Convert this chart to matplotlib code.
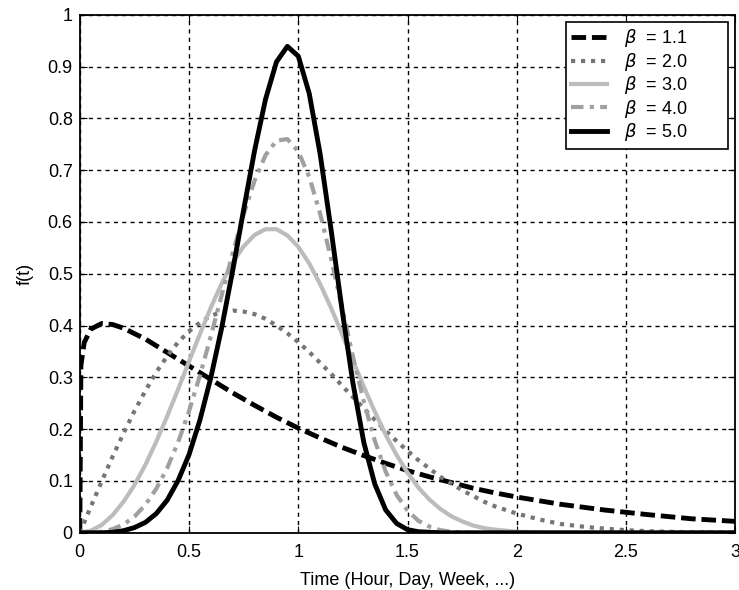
import numpy as np
import matplotlib
matplotlib.use('Agg')
import matplotlib.pyplot as plt

plt.rcParams['font.family'] = ['Liberation Sans', 'DejaVu Sans']

###  data  ###

# common time grid for beta = 2, 3, 4, 5
t = [0.0, 0.05, 0.1, 0.15, 0.2, 0.25, 0.3, 0.35, 0.4, 0.45,
     0.5, 0.55, 0.6, 0.65, 0.7, 0.75, 0.8, 0.85, 0.9, 0.95,
     1.0, 1.05, 1.1, 1.15, 1.2, 1.25, 1.3, 1.35, 1.4, 1.45,
     1.5, 1.55, 1.6, 1.65, 1.7, 1.75, 1.8, 1.85, 1.9, 1.95,
     2.0, 2.1, 2.2, 2.3, 2.4, 2.5, 2.6, 2.7, 2.8, 2.9, 3.0]

f_b2 = [0, 0.050, 0.099, 0.147, 0.192, 0.235, 0.274, 0.310, 0.341, 0.368,
        0.389, 0.406, 0.419, 0.426, 0.429, 0.427, 0.422, 0.413, 0.400, 0.385,
        0.368, 0.349, 0.328, 0.307, 0.284, 0.262, 0.240, 0.218, 0.197, 0.177,
        0.158, 0.140, 0.124, 0.108, 0.095, 0.082, 0.071, 0.060, 0.051, 0.044,
        0.037, 0.026, 0.017, 0.012, 0.008, 0.005, 0.003, 0.002, 0.001, 0.001, 0.0]

f_b3 = [0, 0.004, 0.015, 0.034, 0.060, 0.092, 0.131, 0.176, 0.225, 0.277,
        0.331, 0.384, 0.435, 0.482, 0.522, 0.553, 0.575, 0.586, 0.586, 0.574,
        0.552, 0.520, 0.480, 0.434, 0.384, 0.332, 0.282, 0.234, 0.189, 0.150,
        0.116, 0.087, 0.064, 0.046, 0.032, 0.022, 0.014, 0.009, 0.006, 0.004,
        0.002, 0.001, 0, 0, 0, 0, 0, 0, 0, 0, 0]

f_b4 = [0, 0, 0.002, 0.007, 0.016, 0.031, 0.054, 0.085, 0.125, 0.175,
        0.235, 0.304, 0.380, 0.460, 0.540, 0.615, 0.680, 0.729, 0.757, 0.760,
        0.736, 0.687, 0.616, 0.529, 0.435, 0.340, 0.253, 0.178, 0.118, 0.073,
        0.043, 0.023, 0.012, 0.005, 0.002, 0.001, 0, 0, 0, 0,
        0, 0, 0, 0, 0, 0, 0, 0, 0, 0, 0]

f_b5 = [0, 0, 0, 0.001, 0.004, 0.010, 0.020, 0.037, 0.063, 0.101,
        0.151, 0.218, 0.300, 0.397, 0.507, 0.624, 0.738, 0.837, 0.909, 0.939,
        0.920, 0.848, 0.731, 0.585, 0.431, 0.289, 0.174, 0.094, 0.044, 0.018,
        0.006, 0.002, 0.001, 0, 0, 0, 0, 0, 0, 0,
        0, 0, 0, 0, 0, 0, 0, 0, 0, 0, 0]

# beta = 1.1 rises almost vertically at t = 0
t_b11 = [0.0, 0.005, 0.02, 0.05, 0.1, 0.15, 0.2, 0.3, 0.4, 0.5,
         0.6, 0.7, 0.8, 0.9, 1.0, 1.1, 1.2, 1.3, 1.4, 1.5,
         1.6, 1.7, 1.8, 1.9, 2.0, 2.2, 2.4, 2.6, 2.8, 3.0]
f_b11 = [0, 0.323, 0.367, 0.393, 0.404, 0.402, 0.395, 0.374, 0.348, 0.322,
         0.296, 0.270, 0.246, 0.223, 0.202, 0.183, 0.165, 0.149, 0.134, 0.120,
         0.108, 0.097, 0.086, 0.077, 0.069, 0.055, 0.044, 0.035, 0.027, 0.022]

labels = ['1.1', '2.0', '3.0', '4.0', '5.0']
xticks = [0, 0.5, 1, 1.5, 2, 2.5, 3]
xticklabels = ['0', '0.5', '1', '1.5', '2', '2.5', '3']
yticks = [0, 0.1, 0.2, 0.3, 0.4, 0.5, 0.6, 0.7, 0.8, 0.9, 1]
yticklabels = ['0', '0.1', '0.2', '0.3', '0.4', '0.5', '0.6', '0.7', '0.8', '0.9', '1']

###  plot  ###

fig = plt.figure(figsize=(7.39, 5.90), dpi=100)
ax = fig.add_axes([0.108, 0.097, 0.887, 0.878])

def lab(b):
    # extra spaces mimic the wide MATLAB legend box
    return r'$\beta$  = ' + b + '        '

ax.plot(t_b11, f_b11, color='black', lw=3.5, ls=(0, (3, 1.2)), label=lab(labels[0]))
ax.plot(t, f_b2, color='#767676', lw=3, ls=(0, (1, 1.4)), label=lab(labels[1]))
ax.plot(t, f_b3, color='#bcbcbc', lw=3, label=lab(labels[2]))
ax.plot(t, f_b4, color='#a0a0a0', lw=3, ls=(0, (3, 1.5, 1, 1.5)), label=lab(labels[3]))
ax.plot(t, f_b5, color='black', lw=3.5, label=lab(labels[4]))

ax.set_xlim(0, 3)
ax.set_ylim(0, 1)
ax.set_xticks(xticks)
ax.set_xticklabels(xticklabels)
ax.set_yticks(yticks)
ax.set_yticklabels(yticklabels)
ax.tick_params(direction='in', top=True, right=True, length=5, labelsize=13)
ax.tick_params(axis='x', pad=8)
ax.tick_params(axis='y', pad=5)
ax.grid(True, color='black', lw=1, ls=(0, (3, 3)))
for s in ax.spines.values():
    s.set_linewidth(1.3)

ax.set_xlabel('Time (Hour, Day, Week, ...)', fontsize=13, labelpad=8)
ax.set_ylabel('f(t)', fontsize=13, labelpad=10)

leg = ax.legend(loc='upper right', fontsize=13, fancybox=False, framealpha=1,
                edgecolor='black', handlelength=2.0, handletextpad=0.9,
                borderaxespad=0.4, labelspacing=0.08, borderpad=0.3)
leg.get_frame().set_linewidth(1.2)

plt.savefig('out.png', dpi=100)
